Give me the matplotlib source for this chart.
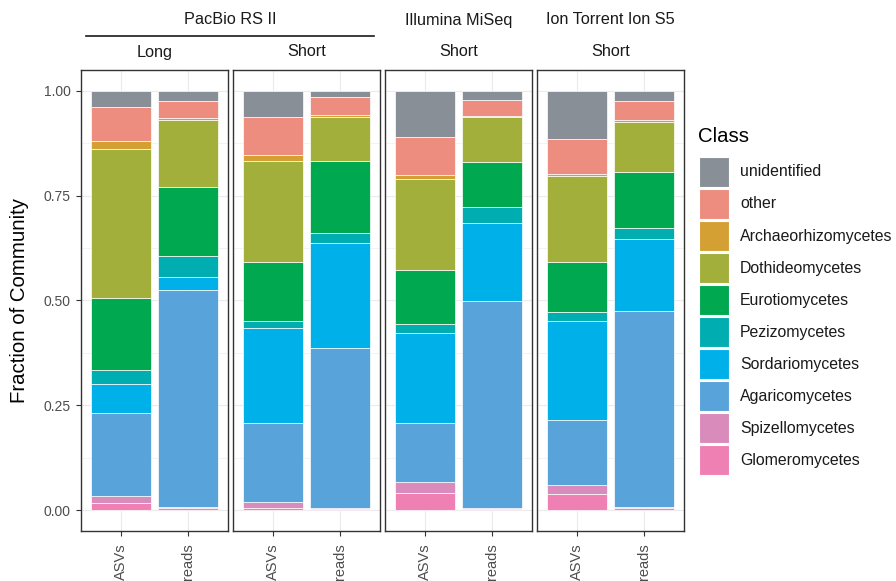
import matplotlib

matplotlib.use("Agg")
import matplotlib.pyplot as plt
import numpy as np
from matplotlib.patches import Rectangle

plt.rcParams["font.family"] = ["Liberation Sans", "DejaVu Sans"]

# Fungal classes, in legend order (top of the stack first)
classes = [
    "unidentified", "other", "Archaeorhizomycetes", "Dothideomycetes",
    "Eurotiomycetes", "Pezizomycetes", "Sordariomycetes", "Agaricomycetes",
    "Spizellomycetes", "Glomeromycetes",
]
class_colors = [
    "#888F96", "#EC8D80", "#D4A033", "#A2AF3B", "#00A84F",
    "#00ADB0", "#00B0E9", "#57A3DA", "#D98BBB", "#EE80B3",
]

samples = ["ASVs", "reads"]

# Relative abundance per class (same order as `classes`)
pacbio_long_asvs = [0.039, 0.081, 0.019, 0.354, 0.172, 0.034, 0.070, 0.197, 0.018, 0.016]
pacbio_long_reads = [0.023, 0.041, 0.005, 0.159, 0.165, 0.050, 0.031, 0.519, 0.003, 0.004]
pacbio_short_asvs = [0.062, 0.091, 0.015, 0.239, 0.143, 0.016, 0.227, 0.187, 0.016, 0.004]
pacbio_short_reads = [0.015, 0.043, 0.005, 0.105, 0.170, 0.024, 0.251, 0.382, 0.002, 0.003]
illumina_asvs = [0.111, 0.089, 0.009, 0.219, 0.127, 0.023, 0.215, 0.141, 0.025, 0.041]
illumina_reads = [0.022, 0.038, 0.002, 0.107, 0.107, 0.038, 0.187, 0.495, 0.002, 0.002]
iontorrent_asvs = [0.114, 0.085, 0.005, 0.205, 0.119, 0.020, 0.236, 0.157, 0.021, 0.038]
iontorrent_reads = [0.025, 0.044, 0.005, 0.119, 0.135, 0.025, 0.172, 0.468, 0.003, 0.004]

panel_labels = ["Long", "Short", "Short", "Short"]
panel_data = [
    (pacbio_long_asvs, pacbio_long_reads),
    (pacbio_short_asvs, pacbio_short_reads),
    (illumina_asvs, illumina_reads),
    (iontorrent_asvs, iontorrent_reads),
]

W, H = 896, 581
fig = plt.figure(figsize=(W / 100, H / 100), dpi=100)


def fx(px):
    return px / W


def fy(py):
    # pixel rows are counted from the top
    return 1 - py / H


panel_left = [81, 233, 385, 537]
panel_w = 147
panel_top, panel_bot = 70, 531

text_dark = "#1A1A1A"
tick_grey = "#4D4D4D"
frame_col = "#333333"
grid_col = "#EBEBEB"

axes = []
for i, (lbl, (asv, rd)) in enumerate(zip(panel_labels, panel_data)):
    ax = fig.add_axes([fx(panel_left[i]), fy(panel_bot),
                       panel_w / W, (panel_bot - panel_top) / H])
    axes.append(ax)
    x = np.arange(1, len(samples) + 1)
    for xi, vals in zip(x, (asv, rd)):
        # stack from the bottom: last class sits at zero
        bottom = 0.0
        for c in range(len(classes) - 1, -1, -1):
            ax.bar(xi, vals[c], bottom=bottom, width=0.9, color=class_colors[c],
                   edgecolor="white", linewidth=0.5, zorder=3)
            bottom += vals[c]

    ax.set_xlim(0.4, 2.6)
    ax.set_ylim(-0.05, 1.05)
    ax.set_xticks(x)
    ax.set_xticklabels(samples, rotation=90, va="top", ha="center")
    ax.set_yticks([0, 0.25, 0.5, 0.75, 1.0])
    ax.set_yticks([0.125, 0.375, 0.625, 0.875], minor=True)
    ax.grid(True, which="major", color=grid_col, linewidth=0.8, zorder=0)
    ax.grid(True, which="minor", axis="y", color=grid_col, linewidth=0.4, zorder=0)
    ax.set_axisbelow(True)
    ax.tick_params(axis="both", which="major", length=3.3, width=0.8,
                   color=frame_col, labelcolor=tick_grey, labelsize=10, pad=4)
    ax.tick_params(axis="x", which="major", labelsize=10.5, pad=5.5)
    ax.tick_params(axis="y", which="minor", length=0)
    if i == 0:
        ax.set_yticklabels(["0.00", "0.25", "0.50", "0.75", "1.00"])
    else:
        ax.tick_params(axis="y", which="both", left=False, labelleft=False)
    for sp in ax.spines.values():
        sp.set_color(frame_col)
        sp.set_linewidth(1.0)

    fig.text(fx(panel_left[i] + panel_w / 2), fy(52), lbl, ha="center",
             va="center", fontsize=11.7, color=text_dark)

# outer strip: sequencing platform
fig.text(fx((panel_left[0] + panel_left[1] + panel_w) / 2), fy(20), "PacBio RS II",
         ha="center", va="center", fontsize=11.7, color=text_dark)
fig.text(fx(panel_left[2] + panel_w / 2), fy(20), "Illumina MiSeq",
         ha="center", va="center", fontsize=11.7, color=text_dark)
fig.text(fx(panel_left[3] + panel_w / 2), fy(20), "Ion Torrent Ion S5",
         ha="center", va="center", fontsize=11.7, color=text_dark)
fig.add_artist(plt.Line2D([fx(86), fx(374)], [fy(36), fy(36)],
                          color=text_dark, linewidth=1.2))

fig.text(fx(20), fy((panel_top + panel_bot) / 2), "Fraction of Community",
         rotation=90, ha="center", va="center", fontsize=14.7, color="black")

# legend
fig.text(fx(698), fy(136), "Class", ha="left", va="center",
         fontsize=14.7, color="black")
key_top, key_h, key_step = 157, 30, 32
for k, (name, col) in enumerate(zip(classes, class_colors)):
    top = key_top + k * key_step
    fig.add_artist(Rectangle((fx(699), fy(top + key_h)), 30 / W, key_h / H,
                             facecolor=col, edgecolor="white", linewidth=0.8,
                             transform=fig.transFigure))
    fig.text(fx(740), fy(top + key_h / 2), name, ha="left", va="center",
             fontsize=11.4, color=text_dark)

fig.savefig("out.png", dpi=100)
